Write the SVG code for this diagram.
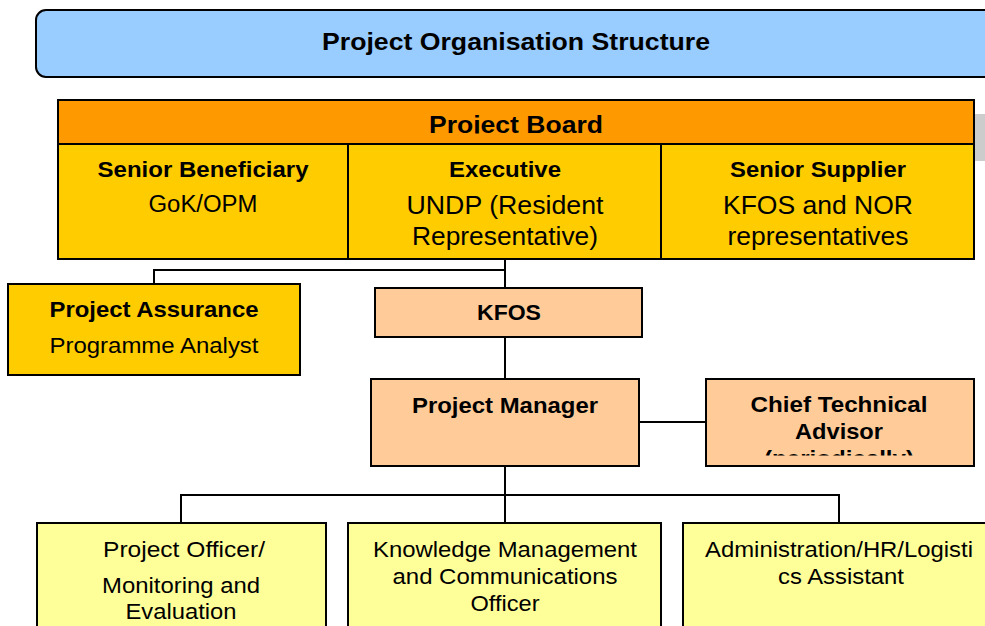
<svg xmlns="http://www.w3.org/2000/svg" width="985" height="626" viewBox="0 0 985 626">
  <style>
    text { font-family: "Liberation Sans", Arial, sans-serif; fill: #000; text-anchor: middle; }
    .b { font-weight: bold; }
    .box { stroke: #000; stroke-width: 2; }
    .line { stroke: #000; stroke-width: 2; fill: none; }
    .board { fill: #ffcc00; }
    .peach { fill: #ffcc99; }
    .pale { fill: #ffff99; }
  </style>
  <defs>
    <clipPath id="clipBoardHead"><rect x="58" y="100" width="916" height="33.5"/></clipPath>
    <clipPath id="clipCta"><rect x="706" y="379" width="268" height="76.5"/></clipPath>
  </defs>

  <!-- title banner -->
  <g id="title">
    <rect x="36" y="10" width="970" height="67" rx="10" ry="10" fill="#99ccff" class="box"/>
    <text x="516" y="50" class="b" font-size="24" textLength="388" lengthAdjust="spacingAndGlyphs">Project Organisation Structure</text>
  </g>

  <!-- grey tab behind board -->
  <rect x="975" y="114" width="10" height="47" fill="#cccccc"/>

  <!-- connectors -->
  <g id="connectors">
    <path class="line" d="M505 259 V288"/>
    <path class="line" d="M505 270 H154 V284"/>
    <path class="line" d="M505 337 V379"/>
    <path class="line" d="M639 422 H706"/>
    <path class="line" d="M505 466 V523"/>
    <path class="line" d="M181 523 V495 H839 V523"/>
  </g>

  <!-- project board -->
  <g id="project-board">
    <rect x="58" y="100" width="916" height="44" fill="#ff9900" class="box"/>
    <text x="516" y="132.5" class="b" font-size="24" textLength="174" lengthAdjust="spacingAndGlyphs" clip-path="url(#clipBoardHead)">Project Board</text>
    <rect x="58" y="144" width="916" height="115" class="box board"/>
    <path class="line" d="M348 144 V259 M661 144 V259"/>
  </g>
  <g id="senior-beneficiary">
    <text x="203" y="177" class="b" font-size="22" textLength="211" lengthAdjust="spacingAndGlyphs">Senior Beneficiary</text>
    <text x="203" y="212" font-size="23" textLength="109" lengthAdjust="spacingAndGlyphs">GoK/OPM</text>
  </g>
  <g id="executive">
    <text x="505" y="177" class="b" font-size="22" textLength="112" lengthAdjust="spacingAndGlyphs">Executive</text>
    <text x="505" y="214" font-size="25" textLength="197" lengthAdjust="spacingAndGlyphs">UNDP (Resident</text>
    <text x="505" y="245" font-size="25" textLength="186" lengthAdjust="spacingAndGlyphs">Representative)</text>
  </g>
  <g id="senior-supplier">
    <text x="818" y="177" class="b" font-size="22" textLength="176" lengthAdjust="spacingAndGlyphs">Senior Supplier</text>
    <text x="818" y="214" font-size="25" textLength="190" lengthAdjust="spacingAndGlyphs">KFOS and NOR</text>
    <text x="818" y="245" font-size="25" textLength="181" lengthAdjust="spacingAndGlyphs">representatives</text>
  </g>

  <!-- project assurance -->
  <g id="project-assurance">
    <rect x="8" y="284" width="292" height="91" class="box board"/>
    <text x="154" y="317" class="b" font-size="22" textLength="209" lengthAdjust="spacingAndGlyphs">Project Assurance</text>
    <text x="154" y="353" font-size="22" textLength="209" lengthAdjust="spacingAndGlyphs">Programme Analyst</text>
  </g>

  <!-- KFOS -->
  <g id="kfos">
    <rect x="375" y="288" width="267" height="49" class="box peach"/>
    <text x="509" y="320" class="b" font-size="22" textLength="64" lengthAdjust="spacingAndGlyphs">KFOS</text>
  </g>

  <!-- project manager -->
  <g id="project-manager">
    <rect x="371" y="379" width="268" height="87" class="box peach"/>
    <text x="505" y="413" class="b" font-size="22" textLength="186" lengthAdjust="spacingAndGlyphs">Project Manager</text>
  </g>

  <!-- chief technical advisor -->
  <g id="chief-technical-advisor">
    <rect x="706" y="379" width="268" height="87" class="box peach"/>
    <g clip-path="url(#clipCta)">
      <text x="839" y="411.7" class="b" font-size="22" textLength="177" lengthAdjust="spacingAndGlyphs">Chief Technical</text>
      <text x="839" y="438.5" class="b" font-size="22" textLength="88" lengthAdjust="spacingAndGlyphs">Advisor</text>
      <text x="839" y="465.5" class="b" font-size="22" textLength="150" lengthAdjust="spacingAndGlyphs">(periodically)</text>
    </g>
  </g>

  <!-- staff -->
  <g id="project-officer">
    <rect x="37" y="523" width="289" height="120" class="box pale"/>
    <text x="184" y="557" font-size="21.5" textLength="162" lengthAdjust="spacingAndGlyphs">Project Officer/</text>
    <text x="181" y="593" font-size="21.5" textLength="158" lengthAdjust="spacingAndGlyphs">Monitoring and</text>
    <text x="181" y="619" font-size="21.5" textLength="111" lengthAdjust="spacingAndGlyphs">Evaluation</text>
  </g>
  <g id="km-officer">
    <rect x="348" y="523" width="313" height="120" class="box pale"/>
    <text x="505" y="557" font-size="21.5" textLength="264" lengthAdjust="spacingAndGlyphs">Knowledge Management</text>
    <text x="505" y="584" font-size="21.5" textLength="225" lengthAdjust="spacingAndGlyphs">and Communications</text>
    <text x="505" y="611" font-size="21.5" textLength="69" lengthAdjust="spacingAndGlyphs">Officer</text>
  </g>
  <g id="admin-assistant">
    <rect x="683" y="523" width="320" height="120" class="box pale"/>
    <text x="839" y="557" font-size="21.5" textLength="268" lengthAdjust="spacingAndGlyphs">Administration/HR/Logisti</text>
    <text x="841" y="584" font-size="21.5" textLength="126" lengthAdjust="spacingAndGlyphs">cs Assistant</text>
  </g>
</svg>
